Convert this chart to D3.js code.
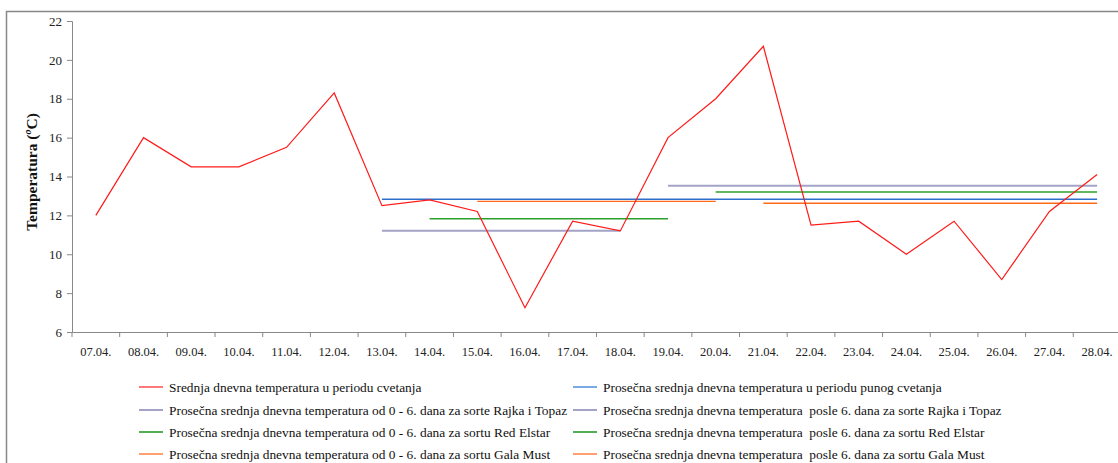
<!DOCTYPE html>
<html>
<head>
<meta charset="utf-8">
<script src="https://cdn.jsdelivr.net/npm/d3@7/dist/d3.min.js"></script>
<style>
html, body { margin: 0; padding: 0; background: #fff; }
svg { display: block; }
svg text { font-family: "Liberation Serif", "Times New Roman", "DejaVu Serif", serif !important; }
</style>
</head>
<body>
<svg id="chart" width="1118" height="463"></svg>
<script>
// ---- data ----
const dates = ["07.04.", "08.04.", "09.04.", "10.04.", "11.04.", "12.04.", "13.04.", "14.04.", "15.04.", "16.04.", "17.04.",
  "18.04.", "19.04.", "20.04.", "21.04.", "22.04.", "23.04.", "24.04.", "25.04.", "26.04.", "27.04.", "28.04."];
const dailyTemp = [12.0, 16.0, 14.5, 14.5, 15.5, 18.3, 12.5, 12.8, 12.2, 7.25, 11.7,
  11.2, 16.0, 18.0, 20.7, 11.5, 11.7, 10.0, 11.7, 8.7, 12.2, 14.1];
const yTicks = [6, 8, 10, 12, 14, 16, 18, 20, 22];

const seriesNames = [
  "Srednja dnevna temperatura u periodu cvetanja",
  "Prosečna srednja dnevna temperatura u periodu punog cvetanja",
  "Prosečna srednja dnevna temperatura od 0 - 6. dana za sorte Rajka i Topaz",
  "Prosečna srednja dnevna temperatura  posle 6. dana za sorte Rajka i Topaz",
  "Prosečna srednja dnevna temperatura od 0 - 6. dana za sortu Red Elstar",
  "Prosečna srednja dnevna temperatura  posle 6. dana za sortu Red Elstar",
  "Prosečna srednja dnevna temperatura od 0 - 6. dana za sortu Gala Must",
  "Prosečna srednja dnevna temperatura  posle 6. dana za sortu Gala Must"
];
// average segments
const avgStart = ["13.04.", "13.04.", "19.04.", "14.04.", "20.04.", "15.04.", "21.04."];
const avgEnd   = ["28.04.", "18.04.", "28.04.", "19.04.", "28.04.", "20.04.", "28.04."];
const avgValue = [12.83, 11.21, 13.53, 11.83, 13.2, 12.72, 12.62];
const avgSeries = [1, 2, 3, 4, 5, 6, 7];

// ---- styles ----
const lineColors   = ["#ff1a1a", "#2f6fcc", "#a3a3c8", "#a3a3c8", "#2ca02c", "#2ca02c", "#ff6a1a", "#ff6a1a"];
const legendColors = ["#ff2020", "#3f86d8", "#a3a3c8", "#a3a3c8", "#0a8a0a", "#0a8a0a", "#ffa070", "#ffa070"];
const lineWidths   = [1.2, 1.5, 2, 2, 1.5, 1.5, 1.4, 1.4];

const svg = d3.select("#chart");

// outer frame
svg.append("path").attr("d", "M6.5,463 L6.5,11.5 L1118,11.5")
  .attr("fill", "none").attr("stroke", "#888").attr("stroke-width", 1.5);

const plotLeft = 72, plotTop = 21, plotBottom = 332;
const x = d3.scaleBand().domain(dates).range([plotLeft, plotLeft + 22 * 47.68]);
const y = d3.scaleLinear().domain([6, 22]).range([plotBottom, plotTop]);
const cx = d => x(d) + x.bandwidth() / 2;

// y axis
const yAxis = svg.append("g").attr("transform", `translate(${plotLeft},0)`)
  .call(d3.axisLeft(y).tickValues(yTicks).tickSize(5).tickPadding(5).tickFormat(d3.format("d")));
yAxis.selectAll("path, line").attr("stroke", "#888");
yAxis.selectAll("text").attr("font-size", 13).attr("fill", "#222");

// x axis
const xAxis = svg.append("g").attr("transform", `translate(0,${plotBottom})`)
  .call(d3.axisBottom(x).tickSize(0).tickPadding(15));
xAxis.select("path.domain").attr("stroke", "#888");
xAxis.selectAll("text").attr("font-size", 12.5).attr("fill", "#222");
// boundary tick marks
svg.append("g").selectAll("line").data(dates).join("line")
  .attr("x1", d => x(d)).attr("x2", d => x(d))
  .attr("y1", plotBottom).attr("y2", plotBottom + 5)
  .attr("stroke", "#888");

// y title
svg.append("text")
  .attr("transform", `translate(37,172) rotate(-90)`)
  .attr("text-anchor", "middle")
  .attr("font-size", 15.5).attr("font-weight", "bold").attr("fill", "#111")
  .html("Temperatura (<tspan font-style='italic' font-size='10' dy='-6'>o</tspan><tspan dy='6'>C)</tspan>");

// average lines
avgSeries.forEach((s, i) => {
  svg.append("line")
    .attr("x1", cx(avgStart[i])).attr("x2", cx(avgEnd[i]))
    .attr("y1", y(avgValue[i])).attr("y2", y(avgValue[i]))
    .attr("stroke", lineColors[s]).attr("stroke-width", lineWidths[s]);
});

// daily temperature line
svg.append("path")
  .datum(dailyTemp)
  .attr("fill", "none").attr("stroke", lineColors[0]).attr("stroke-width", lineWidths[0])
  .attr("d", d3.line().x((d, i) => cx(dates[i])).y(d => y(d)));

// legend
const legCols = [139, 573];
const legRows = [387, 410, 432, 454];
seriesNames.forEach((name, i) => {
  const col = i % 2, row = Math.floor(i / 2);
  const g = svg.append("g").attr("transform", `translate(${legCols[col]},${legRows[row]})`);
  g.append("line").attr("x1", 0).attr("x2", 24).attr("y1", 0).attr("y2", 0)
    .attr("stroke", legendColors[i]).attr("stroke-width", i === 0 ? 1.2 : (i === 2 || i === 3 || i >= 6 ? 2 : 1.4));
  g.append("text").attr("x", 30).attr("y", 4.5)
    .attr("font-size", 13.4).attr("fill", "#111")
    .style("white-space", "pre")
    .text(name);
});
</script>
</body>
</html>
